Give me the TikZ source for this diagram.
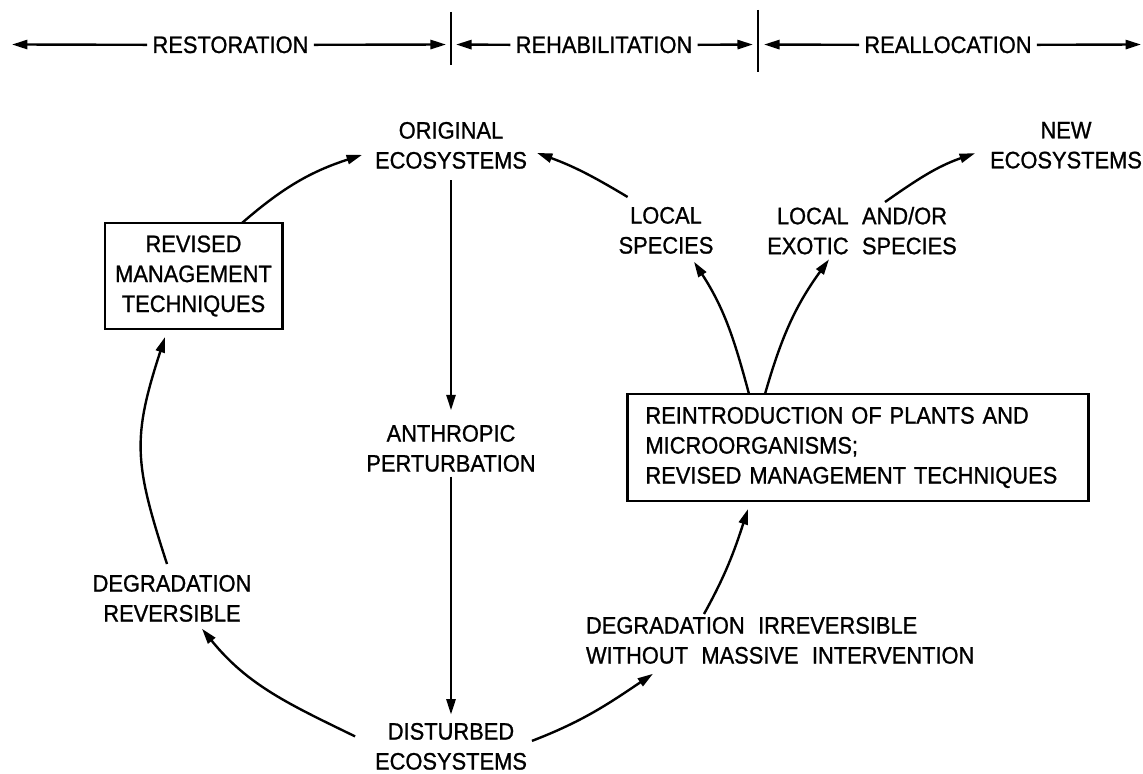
\documentclass[tikz,border=0pt]{standalone}
\usepackage{fontspec}
\setmainfont{Liberation Sans}[FakeStretch=0.92, WordSpace=2.2, FakeBold=1]
\usetikzlibrary{positioning, arrows.meta, calc}

\begin{document}
\begin{tikzpicture}[
    x=0.025cm, y=-0.025cm,
    lbl/.style={font=\fontsize{16.9}{21.3}\selectfont, align=center, inner sep=0pt, outer sep=0pt, anchor=north},
    barlbl/.style={font=\fontsize{16.9}{21.3}\selectfont, inner xsep=3.6pt, inner ysep=0pt, anchor=base},
    boxnode/.style={lbl, draw, line width=2.1pt, anchor=center},
    arrw/.style={-{Triangle[length=11pt, width=6.5pt]}, line width=1.7pt},
    divider/.style={line width=1.7pt}
]
\useasboundingbox (0,0) rectangle (1143,774);

% Scale bar along the top
\node[barlbl] (restor) at (230.5,53) {RESTORATION};
\node[barlbl] (rehab) at (604,53) {REHABILITATION};
\node[barlbl] (realloc) at (948,53) {REALLOCATION};
\coordinate (barleft) at (12,44.5);
\coordinate (barright) at (1141,44.5);
\coordinate (div1) at (451,44.5);
\coordinate (div2) at (758,44.5);
\draw[divider] ($(div1)+(0,-32.5)$) -- ($(div1)+(0,20.5)$);
\draw[divider] ($(div2)+(0,-34.5)$) -- ($(div2)+(0,27.5)$);
\draw[arrw] (restor.west) -- (barleft);
\draw[arrw, shorten >=3.6pt] (restor.east) -- (div1);
\draw[arrw, shorten >=3.6pt] (rehab.west) -- (div1);
\draw[arrw, shorten >=3.6pt] (rehab.east) -- (div2);
\draw[arrw, shorten >=4.3pt] (realloc.west) -- (div2);
\draw[arrw] (realloc.east) -- (barright);

% Ecosystem states and labels
\node[lbl] (orig) at (451,122) {ORIGINAL\\ECOSYSTEMS};
\node[lbl] (newe) at (1066,122) {NEW\\ECOSYSTEMS};
\node[lbl] (locsp) at (666,207) {LOCAL\\SPECIES};
\node[lbl] (exsp) at (862,207) {LOCAL AND/OR\\EXOTIC SPECIES};
\node[lbl] (anthro) at (451,425) {ANTHROPIC\\PERTURBATION};
\node[lbl] (disturbed) at (451,723) {DISTURBED\\ECOSYSTEMS};
\node[lbl] (degrev) at (172,575) {DEGRADATION\\REVERSIBLE};
\node[lbl, anchor=north west, align=left] (degirr) at (586,617) {DEGRADATION IRREVERSIBLE\\WITHOUT MASSIVE INTERVENTION};

% Boxed interventions
\node[boxnode, minimum width=4.425cm, minimum height=2.65cm] (revbox) at (193.5,276) {REVISED\\MANAGEMENT\\TECHNIQUES};
\node[boxnode, align=left, text width=10.625cm, inner xsep=0.4375cm, minimum height=2.675cm] (reintro) at (858,447.5)
    {REINTRODUCTION OF PLANTS AND\\MICROORGANISMS;\\REVISED MANAGEMENT TECHNIQUES};

% Central column
\draw[arrw, shorten <=8pt, shorten >=10.5pt] (orig.south) -- (anthro.north);
\draw[arrw, shorten <=3.5pt, shorten >=6pt] (anthro.south) -- (disturbed.north);

% Restoration loop (left)
\draw[arrw] ($(disturbed.west)+(-20,-10)$) to[out=154, in=-51] ($(degrev.south)+(30,7)$);
\draw[arrw] ($(degrev.north)+(-5,-11)$) to[out=108, in=-108, looseness=1.2] ($(revbox.south)+(-28.5,8)$);
\draw[arrw] ($(revbox.north)+(48.5,0)$) to[out=41, in=198] ($(orig.west)+(-13,9.5)$);

% Rehabilitation / reallocation (right)
\draw[arrw] ($(disturbed.east)+(5,-5.5)$) to[out=21, in=214] ($(degirr.south west)+(67,10)$);
\draw[arrw] ($(degirr.north west)+(118,-3)$) to[out=61, in=-108] ($(reintro.south)+(-110,8)$);
\draw[arrw] ($(reintro.north)+(-109,0)$) to[out=105, in=-57] ($(locsp.south)+(28,8)$);
\draw[arrw] ($(reintro.north)+(-93,0)$) to[out=74, in=-126] ($(exsp.south)+(-33,5)$);
\draw[arrw] ($(locsp.north west)+(9,-10)$) to[out=149, in=-20] ($(orig.east)+(10,7.5)$);
\draw[arrw] ($(exsp.north)+(23,-5)$) to[out=35, in=199] ($(newe.west)+(-15,8)$);

\end{tikzpicture}
\end{document}
